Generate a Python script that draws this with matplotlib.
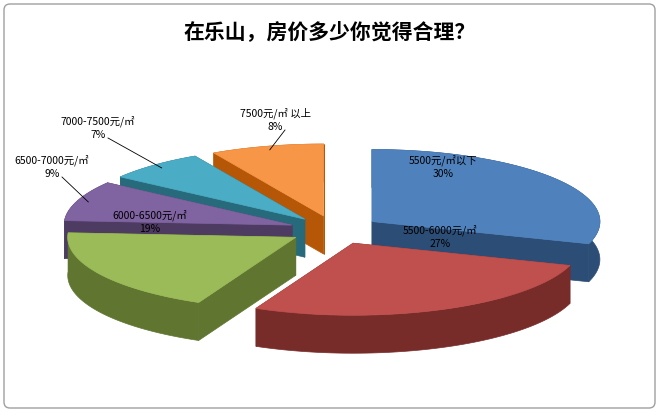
import numpy as np
import matplotlib
matplotlib.use("Agg")
import matplotlib.pyplot as plt
from matplotlib.patches import Polygon, FancyBboxPatch

plt.rcParams['font.family'] = ['Noto Sans CJK SC', 'DejaVu Sans']

title = "在乐山，房价多少你觉得合理？"
categories = ["5500元/㎡以下", "5500-6000元/㎡", "6000-6500元/㎡", "6500-7000元/㎡", "7000-7500元/㎡", "7500元/㎡ 以上"]
values = [30, 27, 19, 9, 7, 8]
colors = ["#4F81BD", "#C0504D", "#9BBB59", "#8064A2", "#4BACC6", "#F79646"]
sides = ["#2C4D75", "#772C2A", "#5F7530", "#4D3B62", "#276A7C", "#B65708"]
label_pos = [(443, 167), (440, 237), (150, 222), (52, 167), (98, 128), (275, 120)]
inside = [True, True, True, False, False, False]

W, H = 659, 412
fig = plt.figure(figsize=(W/100, H/100), dpi=100)
ax = fig.add_axes([0, 0, 1, 1])
ax.set_xlim(0, W); ax.set_ylim(H, 0); ax.axis('off')
ax.add_patch(FancyBboxPatch((4, 4), W-8, H-8, boxstyle="round,pad=0,rounding_size=6",
                            fc="white", ec="#A0A0A0", lw=1))
ax.text(330, 32, title, ha='center', va='center', fontsize=15, fontweight='bold')

cx, cy, rx, ry, depth, ex = 335, 230, 228, 72, 38, 0.2
vals = np.array(values, float)
ends = 90 - np.cumsum(vals) / vals.sum() * 360
starts = np.concatenate([[90], ends[:-1]])

def pt(a, ox, oy, r=1.0, dz=0):
    t = np.radians(a)
    return (cx + ox + r*rx*np.cos(t), cy + oy - r*ry*np.sin(t) + dz)

order = sorted(range(len(vals)), key=lambda i: np.sin(np.radians((starts[i]+ends[i])/2)), reverse=True)
for i in order:
    s, e = starts[i], ends[i]
    mid = np.radians((s+e)/2)
    ox, oy = ex*rx*np.cos(mid), -ex*ry*np.sin(mid)
    angs = np.linspace(s, e, 80)
    top = [pt(a, ox, oy) for a in angs]
    bot = [pt(a, ox, oy, dz=depth) for a in angs]
    c0 = (cx+ox, cy+oy); c1 = (cx+ox, cy+oy+depth)
    for a in (s, e):
        p0, p1 = pt(a, ox, oy), pt(a, ox, oy, dz=depth)
        ax.add_patch(Polygon([c0, p0, p1, c1], closed=True, fc=sides[i], ec=sides[i], lw=0.5))
    ax.add_patch(Polygon(top + bot[::-1], closed=True, fc=sides[i], ec=sides[i], lw=0.5))
    ax.add_patch(Polygon([c0] + top, closed=True, fc=colors[i], ec=colors[i], lw=0.5))

for i in range(len(vals)):
    s, e = starts[i], ends[i]
    mid = np.radians((s+e)/2)
    ox, oy = ex*rx*np.cos(mid), -ex*ry*np.sin(mid)
    tx, ty = label_pos[i]
    ax.text(tx, ty, f"{categories[i]}\n{values[i]}%", ha='center', va='center', fontsize=7.5, linespacing=1.4)
    if not inside[i]:
        px, py = pt((s+e)/2, ox, oy, r=0.95)
        ax.plot([tx+10, px], [ty+10, py], color='black', lw=0.6)

fig.savefig("out.png", dpi=100)
